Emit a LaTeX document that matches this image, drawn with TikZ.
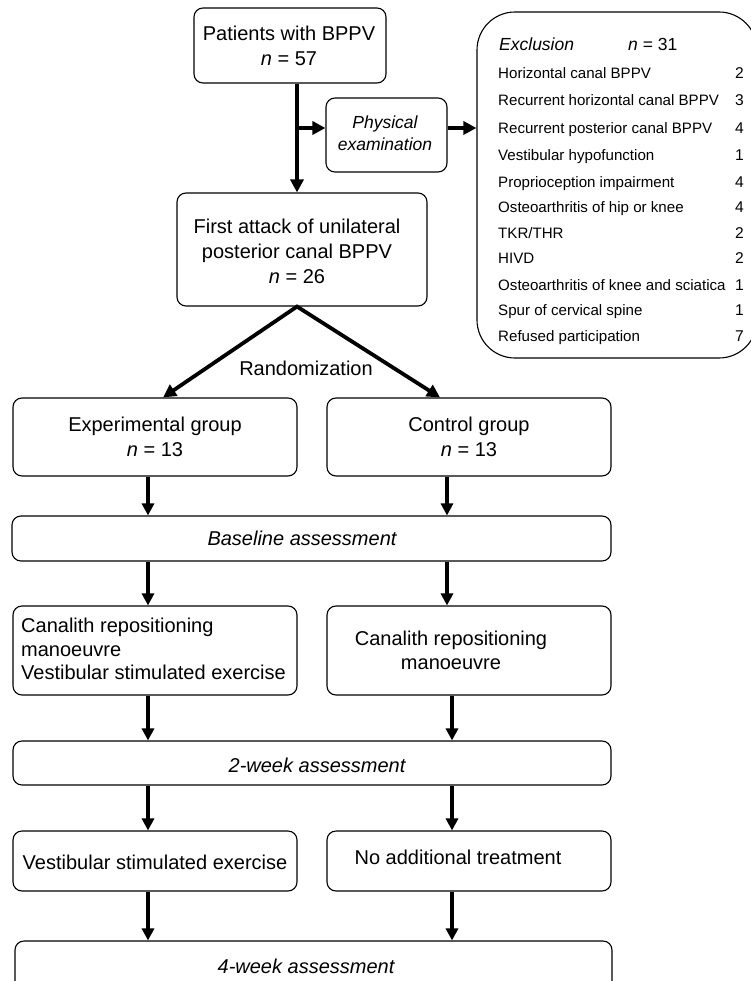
\documentclass[tikz,border=0pt]{standalone}
\usepackage{fontspec}
\setmainfont{Liberation Sans}
\usetikzlibrary{arrows.meta}
\begin{document}
\begin{tikzpicture}[x=1pt,y=-1pt,
  box/.style={draw, line width=1.1pt, rounded corners=9pt, inner sep=0pt},
  txt/.style={inner sep=0pt, align=center, font=\fontsize{20}{25}\selectfont},
  exl/.style={inner sep=0pt, anchor=base west, font=\fontsize{15.1}{18}\selectfont},
  exn/.style={inner sep=0pt, anchor=base east, font=\fontsize{15.6}{18}\selectfont},
  arr/.style={line width=3.2pt, -{Triangle[length=12pt,width=12pt]}},
  arrb/.style={line width=3.8pt, -{Triangle[length=13pt,width=13pt]}},
  arrbb/.style={line width=3.8pt, {Triangle[length=13pt,width=13pt]}-{Triangle[length=13pt,width=13pt]}}
]
\useasboundingbox (0,0) rectangle (751,981);
\clip (0,0) rectangle (751,981);

% top
\node[box, minimum width=192pt, minimum height=75pt] (pat) at (290,45.5) {};
\node[txt] (patt) at (289,46) {Patients with BPPV\\\textit{n} = 57};

\node[box, minimum width=121pt, minimum height=74pt] (px) at (386.5,135) {};
\node[txt, font=\fontsize{17.5}{22}\selectfont\itshape] (pxt) at (385,133) {Physical\\examination};

\node[box, rounded corners=38pt, minimum width=280pt, minimum height=346pt] (ex) at (617,185) {};
\node[exl, font=\fontsize{17.5}{20}\selectfont\itshape] (exh) at (499,51) {Exclusion};
\node[exl, font=\fontsize{17.5}{20}\selectfont] (exhn) at (628,51) {\textit{n} = 31};
\node[exl] (r1) at (498,78.5) {Horizontal canal BPPV};
\node[exn] (n1) at (744,78.5) {2};
\node[exl] (r2) at (498,105.5) {Recurrent horizontal canal BPPV};
\node[exn] (n2) at (744,105.5) {3};
\node[exl] (r3) at (498,133.5) {Recurrent posterior canal BPPV};
\node[exn] (n3) at (744,133.5) {4};
\node[exl] (r4) at (498,160.5) {Vestibular hypofunction};
\node[exn] (n4) at (744,160.5) {1};
\node[exl] (r5) at (498,187.5) {Proprioception impairment};
\node[exn] (n5) at (744,187.5) {4};
\node[exl] (r6) at (498,212.5) {Osteoarthritis of hip or knee};
\node[exn] (n6) at (744,212.5) {4};
\node[exl] (r7) at (498,238.5) {TKR/THR};
\node[exn] (n7) at (744,238.5) {2};
\node[exl] (r8) at (498,263.5) {HIVD};
\node[exn] (n8) at (744,263.5) {2};
\node[exl] (r9) at (498,290.5) {Osteoarthritis of knee and sciatica};
\node[exn] (n9) at (744,290.5) {1};
\node[exl] (r10) at (498,315.5) {Spur of cervical spine};
\node[exn] (n10) at (744,315.5) {1};
\node[exl] (r11) at (498,341.5) {Refused participation};
\node[exn] (n11) at (744,341.5) {7};

\node[box, minimum width=250pt, minimum height=113pt] (fa) at (302,249.5) {};
\node[txt] (fat) at (297,251) {First attack of unilateral\\posterior canal BPPV\\\textit{n} = 26};

\node[txt] (rand) at (306,368) {Randomization};

% groups
\node[box, txt, minimum width=284pt, minimum height=78pt] (exp) at (155,437) {Experimental group\\\textit{n} = 13};
\node[box, txt, minimum width=284pt, minimum height=78pt] (ctrl) at (469,437) {Control group\\\textit{n} = 13};

\node[box, minimum width=599pt, minimum height=45pt] (base) at (311.5,538.5) {};
\node[txt, font=\fontsize{20}{25}\selectfont\itshape] (baset) at (302,538) {Baseline assessment};

\node[box, minimum width=284pt, minimum height=89pt] (canexp) at (155,650.5) {};
\node[txt, align=left, anchor=west, font=\fontsize{20}{23.5}\selectfont] (canexpt) at (21,649) {Canalith repositioning\\manoeuvre\\Vestibular stimulated exercise};
\node[box, minimum width=284pt, minimum height=89pt] (canctrl) at (469,650.5) {};
\node[txt, font=\fontsize{20}{24}\selectfont] (canctrlt) at (451,650) {Canalith repositioning\\manoeuvre};

\node[box, minimum width=598pt, minimum height=44pt] (w2) at (312,763) {};
\node[txt, font=\fontsize{20}{25}\selectfont\itshape] (w2t) at (317,765) {2-week assessment};

\node[box, minimum width=284pt, minimum height=60pt] (ves) at (155,861) {};
\node[txt] (vest) at (155,862) {Vestibular stimulated exercise};
\node[box, minimum width=284pt, minimum height=60pt] (noadd) at (469,861) {};
\node[txt] (noaddt) at (458,857) {No additional treatment};

\node[box, minimum width=597pt, minimum height=60pt] (w4) at (313.5,971) {};
\node[txt, font=\fontsize{20}{25}\selectfont\itshape] (w4t) at (306,966) {4-week assessment};

% connectors
\coordinate (c1) at (297,128);
\draw[arrb] (pat.south -| c1) -- (fa.north -| c1);
\draw[arrb] (c1) -- (px.west |- c1);
\draw[arrb] (px.east |- c1) -- (ex.west |- c1);
\coordinate (rl) at (163,397);
\coordinate (rr) at (440,396);
\draw[arrbb, line join=miter] (exp.north -| rl) -- (fa.south -| c1) -- (ctrl.north -| rr);

\coordinate (xl) at (148,0);
\coordinate (xr) at (447,0);
\coordinate (xr2) at (452,0);
\draw[arr] (exp.south -| xl) -- (base.north -| xl);
\draw[arr] (ctrl.south -| xr) -- (base.north -| xr);
\draw[arr] (base.south -| xl) -- (canexp.north -| xl);
\draw[arr] (base.south -| xr) -- (canctrl.north -| xr);
\draw[arr] (canexp.south -| xl) -- (w2.north -| xl);
\draw[arr] (canctrl.south -| xr2) -- (w2.north -| xr2);
\draw[arr] (w2.south -| xl) -- (ves.north -| xl);
\draw[arr] (w2.south -| xr2) -- (noadd.north -| xr2);
\draw[arr] (ves.south -| xl) -- (w4.north -| xl);
\draw[arr] (noadd.south -| xr2) -- (w4.north -| xr2);
\end{tikzpicture}
\end{document}
